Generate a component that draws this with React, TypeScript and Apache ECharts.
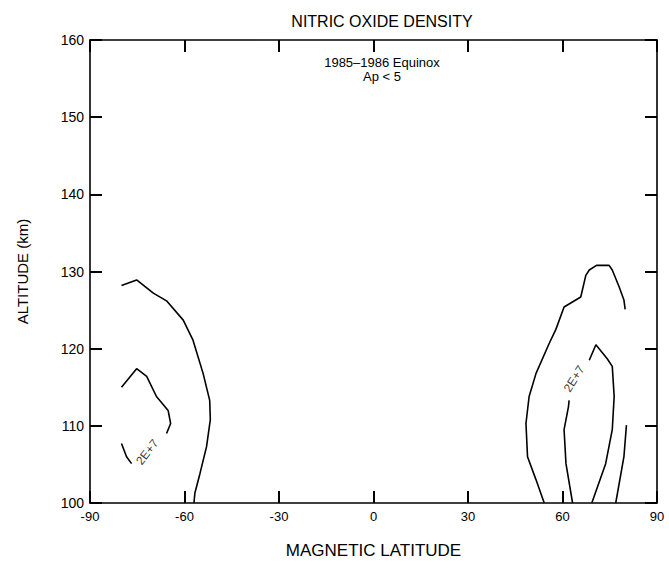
import React, { useEffect, useRef } from "react";
import * as echarts from "echarts";

// Axis ticks
const latTicks = [-90, -60, -30, 0, 30, 60, 90];
const altTicks = [100, 110, 120, 130, 140, 150, 160];

// Contour lines [magnetic latitude, altitude km]
const southOuter: number[][] = [
  [-80.0, 128.2], [-75.2, 128.9], [-69.9, 127.2], [-65.7, 126.2], [-60.4, 123.7],
  [-57.3, 121.1], [-54.1, 116.8], [-52.0, 113.3], [-51.8, 110.8], [-53.0, 107.3],
  [-55.1, 103.8], [-56.7, 101.3], [-57.0, 100.0],
];
const southInnerUpper: number[][] = [
  [-65.7, 109.0], [-64.4, 110.3], [-65.2, 112.0], [-68.9, 113.8], [-72.0, 116.4],
  [-75.2, 117.4], [-80.0, 115.0],
];
const southInnerLower: number[][] = [
  [-80.0, 107.7], [-78.4, 106.0], [-76.8, 105.1],
];
const northOuter: number[][] = [
  [54.2, 100.0], [51.6, 103.0], [48.9, 106.0], [48.4, 110.3], [49.4, 113.8],
  [51.6, 116.8], [55.8, 120.7], [57.9, 122.5], [60.5, 125.4], [65.8, 126.7],
  [67.4, 129.5], [68.5, 130.2], [70.8, 130.8], [74.8, 130.8], [75.8, 130.2],
  [78.0, 128.0], [79.5, 126.3], [79.9, 125.1],
];
const northInnerLeft: number[][] = [
  [63.2, 100.0], [61.1, 105.1], [60.5, 109.5], [61.9, 112.5], [62.1, 113.3],
];
const northInnerRight: number[][] = [
  [68.5, 118.5], [70.6, 120.5], [74.2, 118.7], [75.8, 117.7], [76.4, 113.8],
  [75.8, 109.5], [73.7, 105.1], [69.3, 100.0],
];
const northEdge: number[][] = [
  [80.3, 110.1], [79.5, 106.0], [76.9, 100.0],
];

// Contour labels
const contourLabels = [
  { pos: [-71.8, 106.6], rotate: 52, text: "2E+7" },
  { pos: [63.7, 116.1], rotate: 58, text: "2E+7" },
];

const segments = [
  southOuter, southInnerUpper, southInnerLower,
  northOuter, northInnerLeft, northInnerRight, northEdge,
];

const FONT = "'Liberation Sans', Arial, Helvetica, sans-serif";

export default function App() {
  const ref = useRef<HTMLDivElement>(null);
  useEffect(() => {
    document.body.style.margin = "0";
    if (!ref.current) return;
    const chart = echarts.init(ref.current, undefined, { renderer: "svg" });
    const axisLine = () => ({ show: true, onZero: false, lineStyle: { color: "#000", width: 1.6 } });
    const tick = () => ({
      show: true,
      inside: true,
      length: 12,
      lineStyle: { color: "#000", width: 2 },
    });
    const xMin = latTicks[0];
    const xMax = latTicks[latTicks.length - 1];
    const yMin = altTicks[0];
    const yMax = altTicks[altTicks.length - 1];
    chart.setOption({
      animation: false,
      backgroundColor: "#fff",
      textStyle: { fontFamily: FONT, color: "#000" },
      title: [
        {
          text: "NITRIC OXIDE DENSITY",
          left: 377,
          top: 8,
          textAlign: "center",
          textStyle: { fontFamily: FONT, fontSize: 16, fontWeight: "normal", color: "#000" },
        },
        {
          text: "1985–1986 Equinox\nAp < 5",
          left: 377,
          top: 50,
          textAlign: "center",
          textStyle: { fontFamily: FONT, fontSize: 13, fontWeight: "normal", color: "#000", lineHeight: 14 },
        },
      ],
      grid: { left: 90, right: 12, top: 40, bottom: 65, show: false },
      xAxis: [
        {
          type: "value",
          min: xMin,
          max: xMax,
          interval: 30,
          position: "bottom",
          axisLine: axisLine(),
          axisTick: tick(),
          splitLine: { show: false },
          axisLabel: { fontFamily: FONT, fontSize: 13, color: "#000", margin: 7 },
          name: "MAGNETIC LATITUDE",
          nameLocation: "middle",
          nameGap: 39,
          nameTextStyle: { fontFamily: FONT, fontSize: 17, color: "#000" },
        },
        {
          type: "value",
          min: xMin,
          max: xMax,
          interval: 30,
          position: "top",
          axisLine: axisLine(),
          axisTick: tick(),
          splitLine: { show: false },
          axisLabel: { show: false },
        },
      ],
      yAxis: [
        {
          type: "value",
          min: yMin,
          max: yMax,
          interval: 10,
          position: "left",
          axisLine: axisLine(),
          axisTick: tick(),
          splitLine: { show: false },
          axisLabel: { fontFamily: FONT, fontSize: 14, color: "#000", margin: 6 },
          name: "ALTITUDE (km)",
          nameLocation: "middle",
          nameGap: 60,
          nameTextStyle: { fontFamily: FONT, fontSize: 15, color: "#000" },
        },
        {
          type: "value",
          min: yMin,
          max: yMax,
          interval: 10,
          position: "right",
          axisLine: axisLine(),
          axisTick: tick(),
          splitLine: { show: false },
          axisLabel: { show: false },
        },
      ],
      series: [
        ...segments.map((seg) => ({
          type: "line",
          xAxisIndex: 0,
          yAxisIndex: 0,
          data: seg,
          symbol: "none",
          silent: true,
          lineStyle: { color: "#000", width: 1.6 },
        })),
        {
          type: "scatter",
          xAxisIndex: 0,
          yAxisIndex: 0,
          symbolSize: 0,
          silent: true,
          itemStyle: { color: "#000" },
          label: { show: true, color: "#000", fontFamily: FONT, fontSize: 12 },
          data: contourLabels.map((l) => ({
            value: l.pos,
            label: {
              show: true,
              position: "inside",
              rotate: l.rotate,
              formatter: l.text,
              fontFamily: FONT,
              fontSize: 12,
              color: "#000",
              textBorderWidth: 0,
            },
          })),
        },
      ],
    });
    return () => chart.dispose();
  }, []);
  return <div ref={ref} style={{ width: 669, height: 568 }} />;
}
